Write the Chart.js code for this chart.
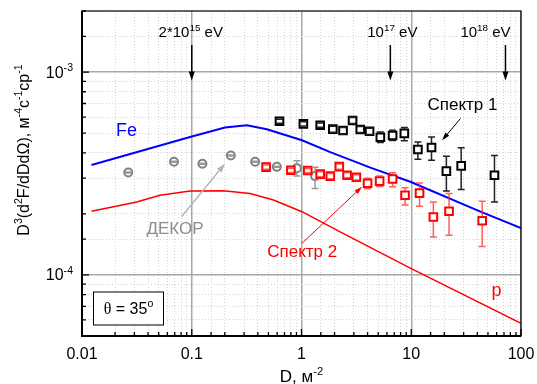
<!DOCTYPE html>
<html>
<head>
<meta charset="utf-8">
<script src="https://cdn.jsdelivr.net/npm/chart.js@4"></script>
<style>
  html, body { margin: 0; padding: 0; background: #fff; }
</style>
</head>
<body>
<canvas id="chart" width="537" height="384"></canvas>
<script>
const FONT = "'Liberation Sans', Arial, sans-serif";

// x tick labels (decades of D, m^-2)
const xTickLabels = ["0.01", "0.1", "1", "10", "100"];

// Спектр 1 (black squares)
const spec1D  = [0.63, 1.04, 1.48, 1.93, 2.39, 2.92, 3.43, 4.17, 5.23, 6.76, 8.65, 11.5, 15.3, 20.9, 28.5, 57.3];
const spec1Y  = [5.72e-4, 5.55e-4, 5.47e-4, 5.23e-4, 5.15e-4, 5.77e-4, 5.21e-4, 5.11e-4, 4.77e-4, 4.87e-4, 4.99e-4, 4.15e-4, 4.25e-4, 3.25e-4, 3.45e-4, 3.10e-4];
const spec1Lo = [5.59e-4, 5.42e-4, 5.34e-4, 5.05e-4, 4.97e-4, 5.57e-4, 5.03e-4, 4.93e-4, 4.50e-4, 4.60e-4, 4.58e-4, 3.72e-4, 3.68e-4, 2.59e-4, 2.64e-4, 2.29e-4];
const spec1Hi = [5.86e-4, 5.69e-4, 5.61e-4, 5.41e-4, 5.33e-4, 5.97e-4, 5.39e-4, 5.29e-4, 5.06e-4, 5.16e-4, 5.33e-4, 4.52e-4, 4.79e-4, 3.85e-4, 4.23e-4, 3.88e-4];

// Спектр 2 (red squares)
const spec2D  = [0.476, 0.80, 1.14, 1.48, 1.83, 2.21, 2.60, 3.16, 4.00, 5.15, 6.76, 8.78, 11.9, 15.9, 22.1, 44.3];
const spec2Y  = [3.40e-4, 3.28e-4, 3.27e-4, 3.14e-4, 3.07e-4, 3.42e-4, 3.10e-4, 3.03e-4, 2.83e-4, 2.90e-4, 2.97e-4, 2.47e-4, 2.53e-4, 1.93e-4, 2.06e-4, 1.85e-4];
const spec2Lo = [3.32e-4, 3.20e-4, 3.19e-4, 3.05e-4, 2.98e-4, 3.32e-4, 3.01e-4, 2.94e-4, 2.66e-4, 2.73e-4, 2.72e-4, 2.21e-4, 2.18e-4, 1.54e-4, 1.57e-4, 1.38e-4];
const spec2Hi = [3.48e-4, 3.36e-4, 3.35e-4, 3.23e-4, 3.16e-4, 3.52e-4, 3.19e-4, 3.12e-4, 3.00e-4, 3.07e-4, 3.19e-4, 2.69e-4, 2.84e-4, 2.29e-4, 2.52e-4, 2.31e-4];

// ДЕКОР (grey circles)
const dekorD  = [0.0264, 0.0689, 0.125, 0.227, 0.378, 0.596, 0.908, 1.33];
const dekorY  = [3.20e-4, 3.61e-4, 3.53e-4, 3.88e-4, 3.61e-4, 3.41e-4, 3.36e-4, 3.07e-4];
const dekorLo = [3.18e-4, 3.59e-4, 3.51e-4, 3.86e-4, 3.59e-4, 3.39e-4, 3.07e-4, 2.67e-4];
const dekorHi = [3.22e-4, 3.63e-4, 3.55e-4, 3.90e-4, 3.63e-4, 3.43e-4, 3.65e-4, 3.39e-4];

// model curves
const feD = [0.0122, 0.0965, 0.201, 0.318, 0.483, 1.01, 1.83, 4.24, 9.81, 42.7, 100];
const feY = [3.48e-4, 4.79e-4, 5.33e-4, 5.47e-4, 5.23e-4, 4.61e-4, 4.03e-4, 3.38e-4, 2.88e-4, 2.05e-4, 1.70e-4];
const pD  = [0.0122, 0.0315, 0.0514, 0.0965, 0.194, 0.340, 0.555, 1.01, 2.25, 9.81, 100];
const pY  = [2.06e-4, 2.29e-4, 2.47e-4, 2.59e-4, 2.60e-4, 2.52e-4, 2.34e-4, 2.05e-4, 1.63e-4, 1.08e-4, 5.78e-5];

function toXY(xs, ys) {
  return xs.map((x, i) => ({ x: x, y: ys[i] }));
}

function isDecade(v) {
  const l = Math.log10(v);
  return Math.abs(l - Math.round(l)) < 1e-6;
}

function fontStr(size, family) {
  return size + "px " + (family || FONT);
}

// text with superscripts: parts = [{t, sup, family}]
function richText(ctx, parts, x, y, size, align) {
  let w = 0;
  parts.forEach(p => {
    ctx.font = fontStr(p.sup ? size * 0.66 : size, p.family);
    w += ctx.measureText(p.t).width;
  });
  let cx = align === "center" ? x - w / 2 : align === "right" ? x - w : x;
  ctx.textAlign = "left";
  ctx.textBaseline = "alphabetic";
  parts.forEach(p => {
    const s = p.sup ? size * 0.66 : size;
    ctx.font = fontStr(s, p.family);
    ctx.fillText(p.t, cx, p.sup ? y - size * 0.42 : y);
    cx += ctx.measureText(p.t).width;
  });
}

function arrow(ctx, x1, y1, x2, y2, color, lw, headLen, headW) {
  const a = Math.atan2(y2 - y1, x2 - x1);
  ctx.save();
  ctx.strokeStyle = color;
  ctx.fillStyle = color;
  ctx.lineWidth = lw;
  ctx.beginPath();
  ctx.moveTo(x1, y1);
  ctx.lineTo(x2 - Math.cos(a) * headLen * 0.8, y2 - Math.sin(a) * headLen * 0.8);
  ctx.stroke();
  ctx.beginPath();
  ctx.moveTo(x2, y2);
  ctx.lineTo(x2 - Math.cos(a) * headLen - Math.sin(a) * headW / 2, y2 - Math.sin(a) * headLen + Math.cos(a) * headW / 2);
  ctx.lineTo(x2 - Math.cos(a) * headLen + Math.sin(a) * headW / 2, y2 - Math.sin(a) * headLen - Math.cos(a) * headW / 2);
  ctx.closePath();
  ctx.fill();
  ctx.restore();
}

// error bars, drawn from the marker edge outwards (Origin style)
const errorBars = {
  id: "errorBars",
  afterDatasetsDraw(chart) {
    const ctx = chart.ctx;
    const xs = chart.scales.x, ys = chart.scales.y;
    chart.data.datasets.forEach(ds => {
      if (!ds.errLo) return;
      ctx.save();
      ctx.strokeStyle = ds.errColor;
      ctx.lineWidth = 1.5;
      const half = ds.markHalf;
      ds.data.forEach((pt, i) => {
        const px = xs.getPixelForValue(pt.x);
        const py = ys.getPixelForValue(pt.y);
        const top = ys.getPixelForValue(ds.errHi[i]);
        const bot = ys.getPixelForValue(ds.errLo[i]);
        ctx.beginPath();
        if (top < py - half) { ctx.moveTo(px, py - half); ctx.lineTo(px, top); }
        if (bot > py + half) { ctx.moveTo(px, py + half); ctx.lineTo(px, bot); }
        ctx.moveTo(px - 3.5, top); ctx.lineTo(px + 3.5, top);
        ctx.moveTo(px - 3.5, bot); ctx.lineTo(px + 3.5, bot);
        ctx.stroke();
      });
      ctx.restore();
    });
  }
};

// frame, inward ticks, axis labels, titles and annotations
const decorations = {
  id: "decorations",
  afterDraw(chart) {
    const ctx = chart.ctx;
    const a = chart.chartArea;
    const xs = chart.scales.x, ys = chart.scales.y;
    const X = v => xs.getPixelForValue(v);
    const Y = v => ys.getPixelForValue(v);

    ctx.save();
    // inward ticks
    ctx.strokeStyle = "#000";
    ctx.lineWidth = 1.3;
    ctx.beginPath();
    xs.ticks.forEach(t => {
      const p = X(t.value);
      const len = isDecade(t.value) ? 7 : 4;
      ctx.moveTo(p, a.bottom); ctx.lineTo(p, a.bottom - len);
    });
    ys.ticks.forEach(t => {
      const p = Y(t.value);
      const len = isDecade(t.value) ? 7 : 4;
      ctx.moveTo(a.left, p); ctx.lineTo(a.left + len, p);
    });
    ctx.stroke();

    // frame
    ctx.lineWidth = 1.2;
    ctx.strokeRect(a.left, a.top, a.right - a.left, a.bottom - a.top);
    ctx.lineWidth = 2;
    ctx.beginPath();
    ctx.moveTo(a.left, a.top); ctx.lineTo(a.left, a.bottom); ctx.lineTo(a.right, a.bottom);
    ctx.stroke();

    // x tick labels
    ctx.fillStyle = "#000";
    xs.ticks.forEach(t => {
      if (!isDecade(t.value)) return;
      richText(ctx, [{ t: xTickLabels[Math.round(Math.log10(t.value)) + 2] }], X(t.value), a.bottom + 23, 16, "center");
    });

    // y tick labels
    [1e-3, 1e-4].forEach(v => {
      richText(ctx, [{ t: "10" }, { t: "-" + Math.round(-Math.log10(v)), sup: true }], a.left - 9, Y(v) + 5.5, 16, "right");
    });

    // x title
    richText(ctx, [{ t: "D, м" }, { t: "-2", sup: true }], (a.left + a.right) / 2, 382, 17, "center");

    // y title
    ctx.save();
    ctx.translate(29, 150);
    ctx.rotate(-Math.PI / 2);
    richText(ctx, [
      { t: "D" }, { t: "3", sup: true }, { t: "(d" }, { t: "2", sup: true },
      { t: "F/dDdΩ), м" }, { t: "-4", sup: true }, { t: "c" }, { t: "-1", sup: true },
      { t: "cp" }, { t: "-1", sup: true }
    ], 0, 0, 16, "center");
    ctx.restore();

    // energy arrows
    const energy = [
      { d: 0.1, dx: -1, parts: [{ t: "2*10" }, { t: "15", sup: true }, { t: " eV" }] },
      { d: 6.45, dx: 2, parts: [{ t: "10" }, { t: "17", sup: true }, { t: " eV" }] },
      { d: 72.2, dx: -20, parts: [{ t: "10" }, { t: "18", sup: true }, { t: " eV" }] }
    ];
    energy.forEach(e => {
      const px = X(e.d);
      richText(ctx, e.parts, px + e.dx, a.top + 26, 15, "center");
      arrow(ctx, px, a.top + 34, px, Y(9.1e-4), "#000", 1.5, 9, 6);
    });

    // series labels and pointers
    ctx.fillStyle = "#0000ff";
    richText(ctx, [{ t: "Fe" }], X(0.0255), Y(5.17e-4) + 6, 18, "center");
    ctx.fillStyle = "#ff0000";
    richText(ctx, [{ t: "p" }], X(59.8), Y(8.15e-5) + 3, 18, "center");

    ctx.fillStyle = "#000";
    richText(ctx, [{ t: "Спектр 1" }], X(29.3), Y(6.94e-4) + 6, 17, "center");
    arrow(ctx, X(28.1), Y(5.90e-4), X(19.1), Y(4.61e-4), "#000", 1, 8, 5);

    ctx.fillStyle = "#ff0000";
    richText(ctx, [{ t: "Спектр 2" }], X(1.015), Y(1.305e-4) + 6, 17, "center");
    arrow(ctx, X(1.008), Y(1.43e-4), X(3.56), Y(2.72e-4), "#ff0000", 1, 8, 5);

    ctx.fillStyle = "#8c8c8c";
    richText(ctx, [{ t: "ДЕКОР" }], X(0.0704), Y(1.71e-4) + 6, 17, "center");
    arrow(ctx, X(0.081), Y(1.94e-4), X(0.201), Y(3.54e-4), "#b4b4b4", 1.5, 9, 6);

    // theta box
    ctx.strokeStyle = "#000";
    ctx.lineWidth = 1;
    ctx.fillStyle = "#fff";
    ctx.fillRect(a.left + 11.5, a.bottom - 44, 70, 33);
    ctx.strokeRect(a.left + 11.5, a.bottom - 44, 70, 33);
    ctx.fillStyle = "#000";
    richText(ctx, [
      { t: "θ", family: "'Liberation Serif', serif" }, { t: " = 35" }, { t: "o", sup: true }
    ], a.left + 46.5, a.bottom - 22, 16, "center");
    ctx.restore();
  }
};

function gridColor(c) {
  if (!c.tick) return "#000";
  return isDecade(c.tick.value) ? "#a8a8a8" : "#d4d4d4";
}
function gridWidth(c) {
  if (!c.tick) return 1;
  return isDecade(c.tick.value) ? 1.5 : 1;
}
function gridDash(c) {
  if (!c.tick) return [];
  return isDecade(c.tick.value) ? [] : [1, 2];
}

new Chart(document.getElementById("chart"), {
  type: "scatter",
  data: {
    datasets: [
      {
        label: "Спектр 1",
        data: toXY(spec1D, spec1Y),
        pointStyle: "rect",
        pointRadius: 5.4,
        pointBorderWidth: 2,
        borderColor: "#000",
        backgroundColor: "#fff",
        errLo: spec1Lo, errHi: spec1Hi, errColor: "#222", markHalf: 4
      },
      {
        label: "Спектр 2",
        data: toXY(spec2D, spec2Y),
        pointStyle: "rect",
        pointRadius: 5.4,
        pointBorderWidth: 2,
        borderColor: "#ff0000",
        backgroundColor: "#fff",
        errLo: spec2Lo, errHi: spec2Hi, errColor: "rgba(255,40,40,0.75)", markHalf: 4
      },
      {
        label: "ДЕКОР",
        data: toXY(dekorD, dekorY),
        pointStyle: "circle",
        pointRadius: 4,
        pointBorderWidth: 2,
        borderColor: "#808080",
        backgroundColor: "#fff",
        errLo: dekorLo, errHi: dekorHi, errColor: "#999", markHalf: 4
      },
      {
        label: "Fe",
        data: toXY(feD, feY),
        showLine: true,
        tension: 0,
        borderColor: "#0000ff",
        borderWidth: 2,
        pointRadius: 0
      },
      {
        label: "p",
        data: toXY(pD, pY),
        showLine: true,
        tension: 0,
        borderColor: "#ff0000",
        borderWidth: 1.5,
        pointRadius: 0
      }
    ]
  },
  options: {
    responsive: false,
    animation: false,
    layout: { padding: { left: 82, right: 16, top: 11, bottom: 48 } },
    plugins: {
      legend: { display: false },
      tooltip: { enabled: false }
    },
    scales: {
      x: {
        type: "logarithmic",
        min: 0.01,
        max: 100,
        border: { display: false, dash: gridDash },
        grid: { color: gridColor, lineWidth: gridWidth, drawTicks: false },
        ticks: { display: false, autoSkip: false }
      },
      y: {
        type: "logarithmic",
        min: 5e-5,
        max: 2e-3,
        border: { display: false, dash: gridDash },
        grid: { color: gridColor, lineWidth: gridWidth, drawTicks: false },
        ticks: { display: false }
      }
    }
  },
  plugins: [errorBars, decorations]
});
</script>
</body>
</html>
